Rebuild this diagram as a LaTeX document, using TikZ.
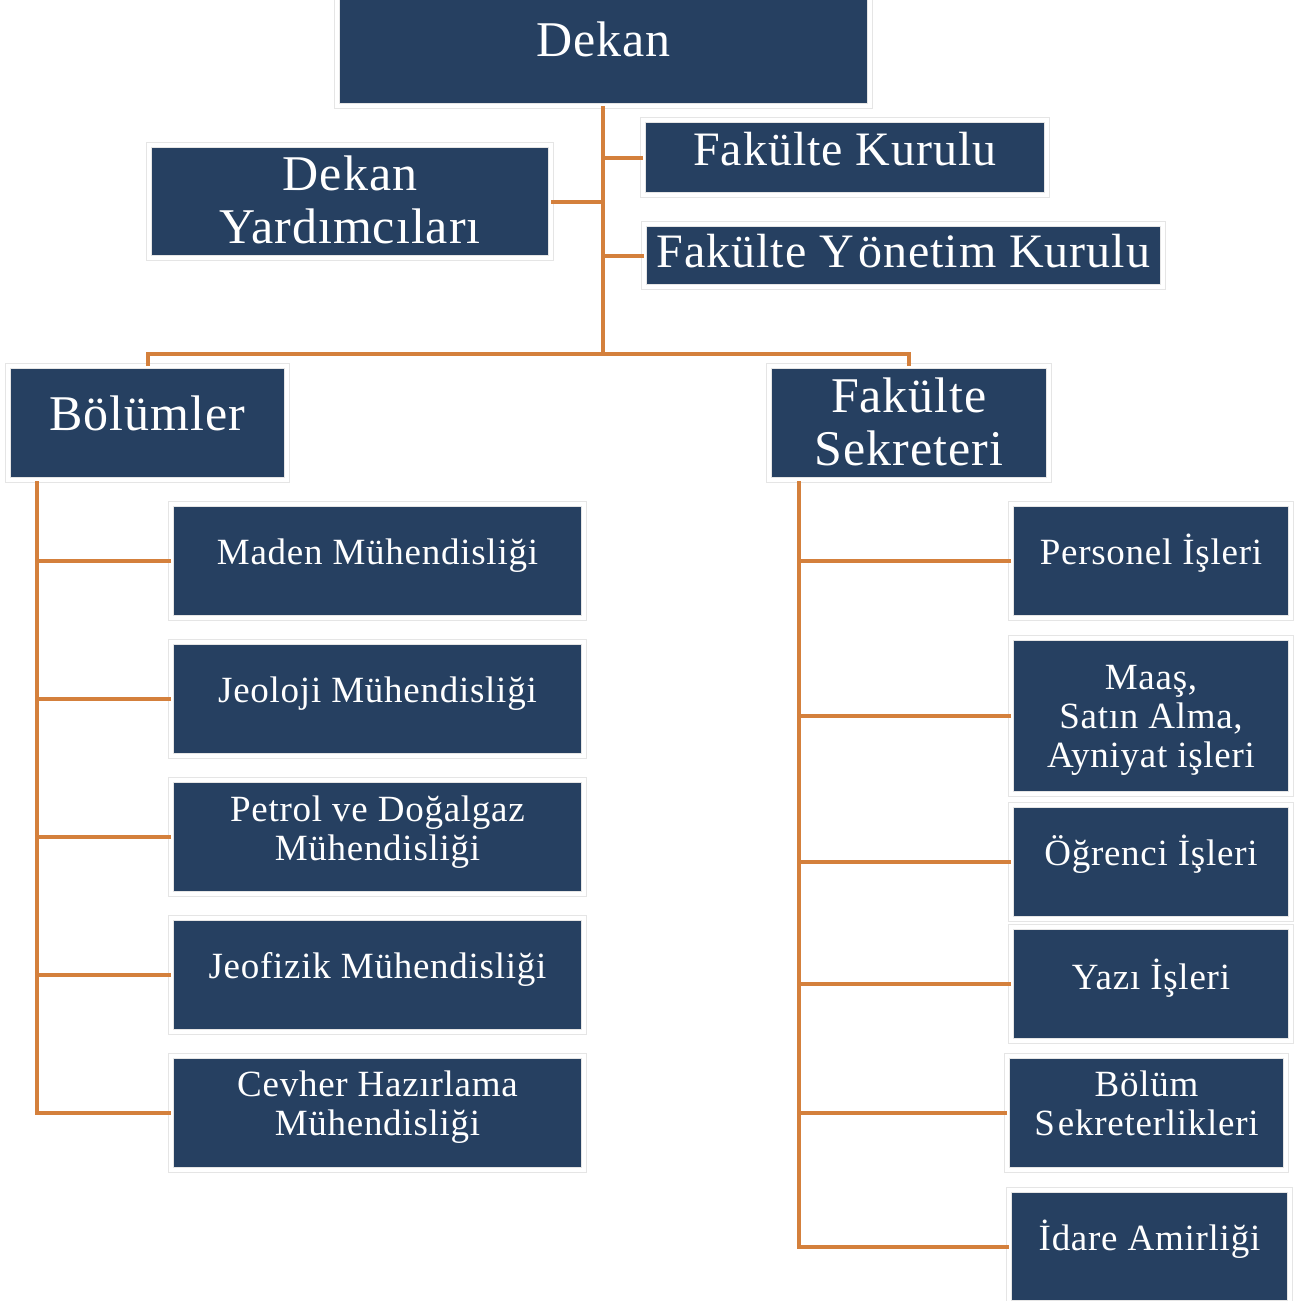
\documentclass[tikz,border=0pt]{standalone}
\usepackage{fontspec}
\setmainfont{Liberation Serif}[LetterSpace=2]
\definecolor{navy}{RGB}{38,64,97}
\definecolor{orng}{RGB}{212,128,60}
\newcommand\boxtext[3]{\rule{0pt}{#1pt}#3\rule[-#2pt]{0pt}{0pt}}
\tikzset{
  box/.style={rectangle, fill=navy, draw=black!10, line width=1pt, double=white,
    double distance=4pt, inner sep=0pt, outer sep=0pt, text=white, align=center},
  big/.style={font=\fontsize{50}{53}\selectfont},
  mid/.style={font=\fontsize{48}{51}\selectfont},
  small/.style={font=\fontsize{37}{39}\selectfont},
  lbox/.style={box, small, minimum width=413pt, minimum height=114pt},
  rbox/.style={box, small, minimum width=280pt, minimum height=114pt},
  conn/.style={draw=orng, line width=4pt},
}
\begin{document}
\begin{tikzpicture}[x=1pt,y=-1pt]
\useasboundingbox (0,0) rectangle (1304,1301);
% top level
\node[box,big,minimum width=533pt,minimum height=109pt] (dekan) at (603.5,51.5) {\boxtext{45}{36}{Dekan}};
\node[box,big,minimum width=402pt,minimum height=113pt] (dy) at (350,201.5) {\boxtext{45}{15}{Dekan\\Yardımcıları}};
\node[box,mid,minimum width=404pt,minimum height=75pt] (fk) at (845,157.5) {\boxtext{43}{27}{Fakülte Kurulu}};
\node[box,mid,minimum width=519pt,minimum height=63pt] (fyk) at (903.5,255.5) {\boxtext{42}{19}{Fakülte Y\kern4pt önetim Kurulu}};
\node[box,big,minimum width=279pt,minimum height=114pt] (bol) at (147.5,423) {\boxtext{45}{31}{Bölümler}};
\node[box,big,minimum width=280pt,minimum height=114pt] (fs) at (909,423) {\boxtext{45}{14}{Fakülte\\Sekreteri}};
% left column
\node[lbox] (maden) at (377.5,561) {\boxtext{34}{28}{Maden Mühendisliği}};
\node[lbox] (jeoloji) at (377.5,699) {\boxtext{34}{28}{Jeoloji Mühendisliği}};
\node[lbox] (petrol) at (377.5,837) {\boxtext{34}{27}{Petrol ve Doğalgaz\\Mühendisliği}};
\node[lbox] (jeofizik) at (377.5,975) {\boxtext{34}{28}{Jeofizik Mühendisliği}};
\node[lbox] (cevher) at (377.5,1113) {\boxtext{34}{29}{Cevher Hazırlama\\Mühendisliği}};
% right column
\node[rbox] (personel) at (1151,561) {\boxtext{34}{28}{Personel İşleri}};
\node[rbox,minimum height=156pt] (maas) at (1151,716) {\boxtext{36}{12}{Maaş,\\Satın Alma,\\Ayniyat işleri}};
\node[rbox] (ogrenci) at (1151,862) {\boxtext{34}{28}{Öğrenci İşleri}};
\node[rbox] (yazi) at (1151,984) {\boxtext{34}{24}{Yazı İşleri}};
\node[rbox,minimum width=279pt] (bs) at (1146.5,1113) {\boxtext{34}{28}{Bölüm\\S\kern3pt ekreterlikleri}};
\node[rbox,minimum width=281pt,minimum height=113pt] (idare) at (1149.5,1246.5) {\boxtext{34}{26}{İdare Amirliği}};
% connectors
\coordinate (bar) at (603,354);
\coordinate (ltop) at (37,481);
\coordinate (rtop) at (799,481);
\draw[conn] (dekan.south -| bar) -- (bar);
\draw[conn] (bol.north) |- (bar) -| (fs.north);
\draw[conn] (dy.east) -- (dy.east -| bar);
\draw[conn] (fk.west) -- (fk.west -| bar);
\draw[conn] (fyk.west) -- (fyk.west -| bar);
\draw[conn] (ltop) |- (cevher.west);
\foreach \n in {maden,jeoloji,petrol,jeofizik} \draw[conn] (\n.west) -- (\n.west -| ltop);
\draw[conn] (rtop) |- (idare.west);
\foreach \n in {personel,maas,ogrenci,yazi,bs} \draw[conn] (\n.west) -- (\n.west -| rtop);
\end{tikzpicture}
\end{document}
